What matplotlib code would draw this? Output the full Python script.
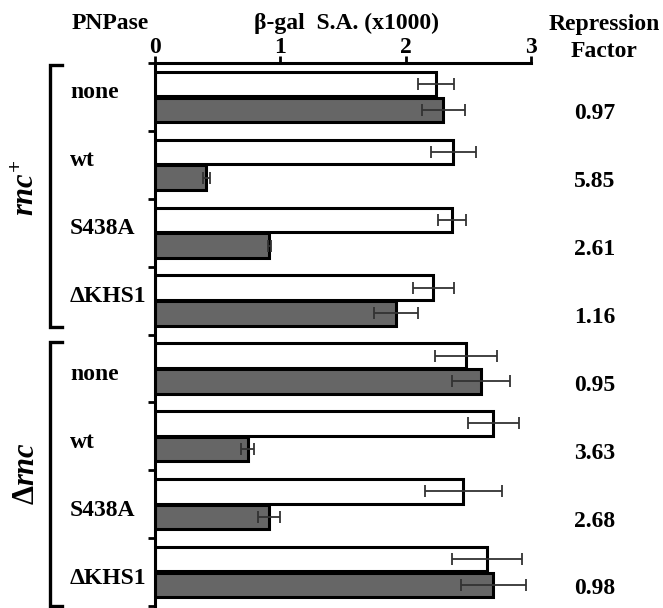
import numpy as np
import matplotlib
matplotlib.use("Agg")
import matplotlib.pyplot as plt
from matplotlib.lines import Line2D
from matplotlib.transforms import blended_transform_factory

plt.rcParams["font.family"] = ["Liberation Serif", "DejaVu Serif"]
plt.rcParams["font.weight"] = "bold"
plt.rcParams["mathtext.fontset"] = "custom"
plt.rcParams["mathtext.rm"] = "Liberation Serif:bold"
plt.rcParams["mathtext.it"] = "Liberation Serif:italic:bold"

# data (beta-gal S.A. x1000)
pnpase = ["none", "wt", "S438A", "ΔKHS1", "none", "wt", "S438A", "ΔKHS1"]
white_vals = [2.24, 2.38, 2.37, 2.22, 2.48, 2.70, 2.46, 2.65]
white_err = [0.145, 0.18, 0.11, 0.165, 0.245, 0.205, 0.305, 0.28]
gray_vals = [2.30, 0.41, 0.91, 1.92, 2.60, 0.74, 0.91, 2.70]
gray_err = [0.17, 0.025, 0.012, 0.175, 0.23, 0.05, 0.09, 0.26]
repression = ["0.97", "5.85", "2.61", "1.16", "0.95", "3.63", "2.68", "0.98"]

W, H = 663, 608
fs = 17
fig = plt.figure(figsize=(W / 100, H / 100), dpi=100)
ax = fig.add_axes([155 / W, 1 - 606 / H, (531 - 155) / W, (606 - 63) / H])

ys = np.arange(len(pnpase)) + 0.5
bh = 0.36
ax.barh(ys - 0.19, white_vals, height=bh, color="white", edgecolor="black", linewidth=2.2, zorder=2)
ax.barh(ys + 0.19, gray_vals, height=bh, color="#666666", edgecolor="black", linewidth=2.2, zorder=2)
ax.errorbar(white_vals, ys - 0.19, xerr=white_err, fmt="none", ecolor="#333333",
            elinewidth=1.3, capsize=4.5, capthick=1.3, zorder=3)
ax.errorbar(gray_vals, ys + 0.19, xerr=gray_err, fmt="none", ecolor="#333333",
            elinewidth=1.3, capsize=4.5, capthick=1.3, zorder=3)

ax.set_xlim(0, 3)
ax.set_ylim(8, 0)
ax.xaxis.tick_top()
ax.set_xticks([0, 1, 2, 3])
ax.set_yticks(np.arange(0, 9))
ax.set_yticklabels([])
ax.tick_params(axis="x", direction="out", length=5, width=2, pad=-1.5, labelsize=fs)
ax.tick_params(axis="y", direction="out", length=5, width=2)
for s in ["right", "bottom"]:
    ax.spines[s].set_visible(False)
for s in ["top", "left"]:
    ax.spines[s].set_linewidth(2.2)

# text outside the axes
def px(x, y):
    return x / W, 1 - y / H

fig.text(*px(110, 29), "PNPase", ha="center", va="baseline", fontsize=fs)
fig.text(*px(346, 29), "β-gal  S.A. (x1000)", ha="center", va="baseline", fontsize=fs)
fig.text(*px(604, 30), "Repression", ha="center", va="baseline", fontsize=fs)
fig.text(*px(604, 57), "Factor", ha="center", va="baseline", fontsize=fs)

tr = blended_transform_factory(fig.transFigure, ax.transData)
for i, (lab, rf) in enumerate(zip(pnpase, repression)):
    off = 0.02 if i < 4 else 0.17
    ax.text(70 / W, ys[i] + off, lab, transform=tr, ha="left", va="baseline", fontsize=fs)
    ax.text(595 / W, ys[i] + 0.33, rf, transform=tr, ha="center", va="baseline", fontsize=fs)

# brackets for the two strain backgrounds
for y0, y1 in [(0.03, 3.89), (4.11, 8.0)]:
    xs = [62 / W, 50 / W, 50 / W, 62 / W]
    fig.add_artist(Line2D(xs, [y0, y0, y1, y1], transform=tr, color="black",
                          linewidth=2.4, solid_joinstyle="miter", clip_on=False))

ax.text(27 / W, 1.84, r"$\mathit{rnc}^{+}$", transform=tr, rotation=90,
        ha="center", va="center", fontsize=22)
ax.text(27 / W, 6.05, r"$\Delta\mathit{rnc}$", transform=tr, rotation=90,
        ha="center", va="center", fontsize=22)

fig.savefig("out.png", dpi=100)
